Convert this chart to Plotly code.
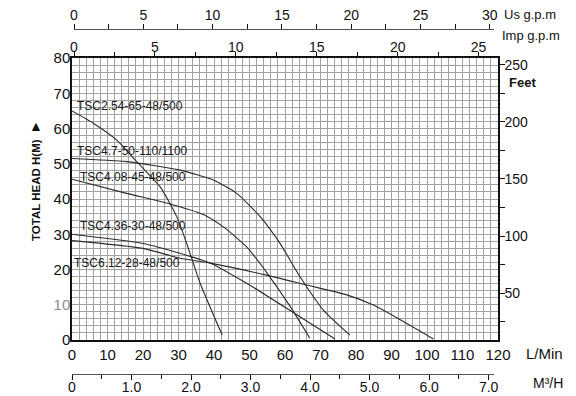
import plotly.graph_objects as go

# ---------------- data (flow in L/min, head in m) ----------------
c1_name = "TSC2.54-65-48/500"
c1_q = [0, 6, 12.6, 18.7, 24.8, 29.5, 32.3, 36.1, 42.3]
c1_h = [65, 61.5, 56.7, 50.1, 43.5, 35.0, 27.4, 16.1, 1.4]

c2_name = "TSC4.7-50-110/1100"
c2_q = [0, 15.4, 30.4, 39.8, 46.4, 53, 58.6, 64.2, 70.8, 78.3]
c2_h = [51.5, 50.6, 48.2, 45.4, 41.6, 35.0, 27.4, 18.0, 8.5, 1.4]

c3_name = "TSC4.08-45-48/500"
c3_q = [0, 15.4, 27.6, 37, 43, 49.2, 54.8, 61.4, 67]
c3_h = [45.6, 41.6, 38.6, 35.6, 31.8, 26.4, 19.2, 9.6, 0.5]

c4_name = "TSC4.36-30-48/500"
c4_q = [0, 20, 30.4, 39, 49.2, 64.2, 74.1]
c4_h = [30, 27.4, 24.6, 21.8, 16.1, 6.6, 0.3]

c5_name = "TSC6.12-28-48/500"
c5_q = [0, 20, 30.4, 39, 54.8, 66.1, 77.4, 84.9, 101.8]
c5_h = [28.2, 26, 23.2, 21.8, 18.4, 15.6, 12.8, 9.9, 0.3]

lpm_ticks = list(range(0, 121, 10))
head_ticks = list(range(0, 81, 10))
head_labels = ["0", "<span style='color:#8a8a8a'>10</span>", "20", "30", "40", "50", "60", "70", "80"]
feet_ticks = [50, 100, 150, 200, 250]
imp_ticks = [0, 5, 10, 15, 20, 25]
us_ticks = [0, 5, 10, 15, 20, 25, 30]
m3h_ticks = [0, 1, 2, 3, 4, 5, 6, 7]
m3h_labels = ["0", "1.0", "2.0", "3.0", "4.0", "5.0", "6.0", "7.0"]

# ---------------- geometry helpers (page pixel -> paper) ----------------
W, H = 576, 396
OFF = 8                      # default body margin of the html page
PX0, PX1 = 72, 498           # page x of plot left / right
PY_TOP, PY_BOT = 29, 374     # page y of Us-axis line / M3/H-axis line


def px(xp):
    return (xp - PX0) / (PX1 - PX0)


def py(yp):
    return (PY_BOT - yp) / (PY_BOT - PY_TOP)


FONT = "Liberation Sans, Arial, Helvetica, sans-serif"
INK = "#111111"
GRID = "#a2a2a2"
LINE = "#2b2b2b"

fig = go.Figure()

curves = [(c1_name, c1_q, c1_h), (c2_name, c2_q, c2_h), (c3_name, c3_q, c3_h),
          (c4_name, c4_q, c4_h), (c5_name, c5_q, c5_h)]
for name, q, h in curves:
    fig.add_trace(go.Scatter(x=q, y=h, mode="lines", name=name,
                             line=dict(color=LINE, width=1.1, shape="spline", smoothing=0.6),
                             showlegend=False, hoverinfo="skip"))

# dummy traces so that auxiliary axes are drawn
fig.add_trace(go.Scatter(x=[None], y=[None], xaxis="x2", yaxis="y", showlegend=False, hoverinfo="skip"))
fig.add_trace(go.Scatter(x=[None], y=[None], xaxis="x", yaxis="y2", showlegend=False, hoverinfo="skip"))
fig.add_trace(go.Scatter(x=[None], y=[None], xaxis="x3", yaxis="y3", showlegend=False, hoverinfo="skip"))
fig.add_trace(go.Scatter(x=[None], y=[None], xaxis="x4", yaxis="y4", showlegend=False, hoverinfo="skip"))

ydom = [py(340), py(58)]
tickfont = dict(family=FONT, size=14, color=INK)

fig.update_layout(
    width=W, height=H, autosize=False,
    margin=dict(l=PX0 - OFF, r=W - (PX1 - OFF), t=PY_TOP - OFF, b=H - (PY_BOT - OFF), pad=0),
    paper_bgcolor="white", plot_bgcolor="rgba(0,0,0,0)",
    showlegend=False,
    xaxis=dict(domain=[0, 1], range=[0, 120], anchor="y", automargin=False,
               tickmode="array", tickvals=lpm_ticks, ticks="",
               showgrid=True, gridcolor=GRID, gridwidth=1,
               minor=dict(dtick=2, tick0=0, showgrid=True, gridcolor=GRID, gridwidth=1),
               showline=True, linecolor=INK, linewidth=2, zeroline=False,
               tickfont=dict(family=FONT, size=15, color=INK), ticklabelstandoff=0),
    yaxis=dict(domain=ydom, range=[0, 80], anchor="x", automargin=False,
               tickmode="array", tickvals=head_ticks, ticktext=head_labels, ticks="",
               showgrid=True, gridcolor=GRID, gridwidth=1,
               minor=dict(dtick=2, tick0=0, showgrid=True, gridcolor=GRID, gridwidth=1),
               showline=True, linecolor=INK, linewidth=1.5, zeroline=False,
               tickfont=dict(family=FONT, size=15, color=INK), ticklabelstandoff=-3),
    xaxis2=dict(overlaying="x", side="top", anchor="y", range=[-0.124, 26.2], automargin=False,
                tickmode="array", tickvals=imp_ticks, ticks="outside", ticklen=4,
                tickcolor=INK, tickwidth=1,
                minor=dict(dtick=2.5, tick0=0, ticks="outside", ticklen=4, tickcolor=INK, showgrid=False),
                showgrid=False, showline=True, linecolor=INK, linewidth=1.5, zeroline=False,
                tickfont=tickfont, ticklabelstandoff=-5),
    yaxis2=dict(overlaying="y", side="right", anchor="x", range=[8.8, 256.1], automargin=False,
                tickmode="array", tickvals=feet_ticks, ticks="outside", ticklen=5,
                tickcolor=INK, tickwidth=1,
                minor=dict(dtick=25, tick0=0, ticks="outside", ticklen=5, tickcolor=INK, showgrid=False),
                showgrid=False, showline=True, linecolor=INK, linewidth=1.5, zeroline=False,
                tickfont=tickfont, ticklabelstandoff=-3),
    xaxis3=dict(domain=[px(74), px(494)], anchor="free", position=1, side="top", automargin=False,
                range=[0, 30.3], tickmode="array", tickvals=us_ticks,
                ticks="outside", ticklen=5, tickcolor=INK, tickwidth=1,
                minor=dict(dtick=2.5, tick0=0, ticks="outside", ticklen=5, tickcolor=INK, showgrid=False),
                showgrid=False, showline=True, linecolor="#555555", linewidth=1.2, zeroline=False,
                tickfont=tickfont, ticklabelstandoff=-2),
    yaxis3=dict(domain=ydom, anchor="x3", range=[0, 1], visible=False, automargin=False),
    xaxis4=dict(domain=[px(72), px(494)], anchor="free", position=0, side="bottom", automargin=False,
                range=[0, 7.09], tickmode="array", tickvals=m3h_ticks, ticktext=m3h_labels,
                ticks="outside", ticklen=5, tickcolor=INK, tickwidth=1,
                minor=dict(dtick=0.5, tick0=0, ticks="outside", ticklen=4, tickcolor=INK, showgrid=False),
                showgrid=False, showline=True, linecolor="#555555", linewidth=1.2, zeroline=False,
                tickfont=dict(family=FONT, size=14, color=INK), ticklabelstandoff=-5),
    yaxis4=dict(domain=ydom, anchor="x4", range=[0, 1], visible=False, automargin=False),
)

annots = []


def note(text, xp, yp, size=14, bold=False, anchor="left", angle=0, color=INK):
    annots.append(dict(text=("<b>%s</b>" % text) if bold else text,
                       x=px(xp), y=py(yp), xref="paper", yref="paper",
                       xanchor=anchor, yanchor="middle", showarrow=False, textangle=angle,
                       font=dict(family=FONT, size=size, color=color)))


# unit labels
note("Us g.p.m", 502, 14, size=13)
note("Imp g.p.m", 500, 36, size=13)
note("Feet", 507, 82, size=13, bold=True)
note("L/Min", 524, 353, size=15)
note("M³/H", 531, 383, size=14)
# axis title
note("TOTAL HEAD H(M)", 36, 190, size=11.5, bold=True, anchor="center", angle=-90)
note("▲", 36, 126, size=14, anchor="center")
# curve labels
label_pos = [(75, 106), (75, 151), (78, 177), (78, 226), (72, 263)]
for (name, _, _), (lx, ly) in zip(curves, label_pos):
    note(name, lx, ly, size=12, color="#1a1a1a")

fig.update_layout(annotations=annots)

fig.write_html("out.html")
